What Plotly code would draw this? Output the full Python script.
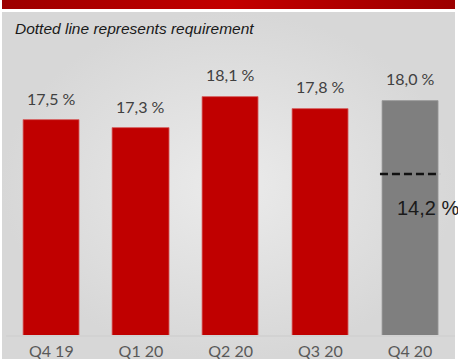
import plotly.graph_objects as go

# ---- data ----
quarters = ["Q4 19", "Q1 20", "Q2 20", "Q3 20", "Q4 20"]
ratios = [17.5, 17.3, 18.1, 17.8, 18.0]
ratio_labels = ["17,5 %", "17,3 %", "18,1 %", "17,8 %", "18,0 %"]
requirement = 14.2
requirement_label = "14,2 %"
note = "Dotted line represents requirement"

W, H = 458, 359
bar_colors = ["#C00000"] * 4 + ["#7F7F7F"]
bar_lines = ["#D86A6A"] * 4 + ["#9A9A9A"]
idx = list(range(len(quarters)))

fig = go.Figure()

# background panel (pixel axes x/y)
fig.add_trace(go.Scatter(
    x=[2, 455, 455, 2, 2], y=[12, 12, 359, 359, 12], xaxis="x", yaxis="y",
    mode="lines", line=dict(width=0), fill="toself",
    fillgradient=dict(type="radial", colorscale=[[0, "#ebebeb"], [1, "#d7d7d7"]]),
    hoverinfo="skip", showlegend=False))
# top red band
fig.add_trace(go.Scatter(
    x=[2, 455, 455, 2, 2], y=[0, 0, 9, 9, 0], xaxis="x", yaxis="y",
    mode="lines", line=dict(width=0), fill="toself",
    fillgradient=dict(type="horizontal",
                      colorscale=[[0, "#9c0000"], [0.5, "#c30000"], [1, "#9c0000"]]),
    hoverinfo="skip", showlegend=False))

# bars
fig.add_trace(go.Bar(
    x=idx, y=ratios, xaxis="x2", yaxis="y2", width=0.625,
    marker=dict(color=bar_colors, line=dict(color=bar_lines, width=0.8)),
    hoverinfo="skip", showlegend=False))

# requirement dashed line (on its own scale)
hw = 0.335
fig.add_trace(go.Scatter(
    x=[idx[-1] - hw, idx[-1] + hw], y=[requirement, requirement],
    xaxis="x2", yaxis="y3", mode="lines",
    line=dict(color="#111111", width=2.5, dash="8px,4px"),
    hoverinfo="skip", showlegend=False))

annotations = []
for i, (v, t) in enumerate(zip(ratios, ratio_labels)):
    annotations.append(dict(
        x=i, y=v, xref="x2", yref="y2", text=t, showarrow=False,
        yanchor="middle", yshift=22,
        font=dict(family="Lato", size=16, color="#404040")))
annotations.append(dict(
    x=idx[-1], y=requirement, xref="x2", yref="y3", text=requirement_label,
    showarrow=False, xanchor="left", yanchor="middle", xshift=-15, yshift=-34,
    font=dict(family="Liberation Sans, Arial", size=20, color="#1a1a1a")))
annotations.append(dict(
    x=13 / W, y=1 - 28 / H, xref="paper", yref="paper", text=note,
    showarrow=False, xanchor="left", yanchor="middle",
    font=dict(family="Liberation Sans, Arial", size=15.5, color="#1a1a1a",
              style="italic")))

fig.update_layout(
    width=W, height=H, margin=dict(l=0, r=0, t=0, b=0, autoexpand=False),
    paper_bgcolor="white", plot_bgcolor="rgba(0,0,0,0)",
    showlegend=False, bargap=0,
    xaxis=dict(domain=[0, 1], range=[0, W], visible=False, fixedrange=True),
    yaxis=dict(domain=[0, 1], range=[H, 0], visible=False, fixedrange=True),
    xaxis2=dict(domain=[6.46 / W, 454.84 / W], range=[-0.5, 4.5], anchor="y2",
                tickvals=idx, ticktext=quarters, showgrid=False, zeroline=False,
                showline=True, linecolor="#d2d2d2", linewidth=1.5,
                ticks="outside", ticklen=1, tickcolor="rgba(0,0,0,0)",
                tickfont=dict(family="Lato", size=16, color="#595959"),
                automargin=False, fixedrange=True),
    yaxis2=dict(domain=[24 / H, 1], range=[12.067, 20.548], anchor="x2",
                visible=False, fixedrange=True),
    yaxis3=dict(overlaying="y2", range=[0, 29.55], anchor="x2",
                visible=False, fixedrange=True),
    annotations=annotations,
)

fig.write_html("out.html")
